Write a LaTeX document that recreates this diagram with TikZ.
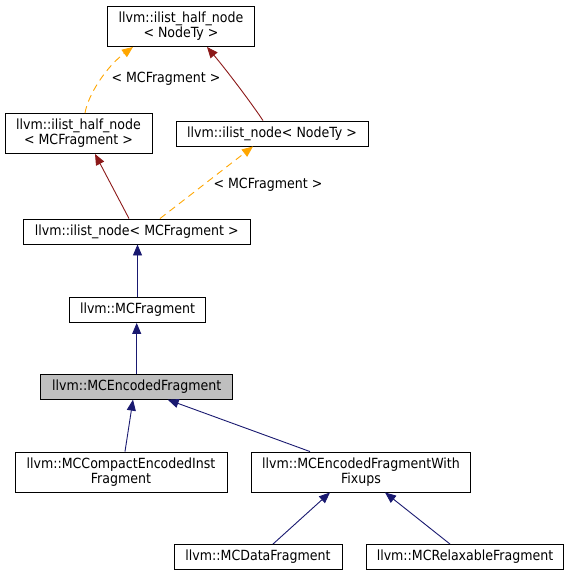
\documentclass[tikz,border=0pt]{standalone}
\usepackage{fontspec}
\setmainfont{DejaVu Sans Condensed}
\usepackage{tikz}
\usetikzlibrary{arrows.meta,positioning}
\definecolor{navy}{rgb}{.1,.1,.44}
\definecolor{darkred}{rgb}{.55,.1,.1}
\definecolor{tmplorange}{rgb}{1,.65,0}
\definecolor{curgray}{rgb}{.75,.75,.75}

\begin{document}
\begin{tikzpicture}[x=1pt,y=-1pt,% one unit is one pixel of the graph, y runs downwards
			every node/.style={
				align=center,  		% so that "\\" breaks the line
				inner sep=0pt,
				font=\fontsize{14}{15}\selectfont
			},
			cls/.style={rectangle,draw=black,line width=0.9pt,fill=white,minimum height=25pt},
			cls2/.style={cls,minimum height=40pt},
			pub/.style={draw=navy,line width=0.9pt,-{Triangle[length=11pt,width=9pt]}},
			priv/.style={draw=darkred,line width=0.9pt,-{Triangle[length=11pt,width=9pt]}},
			tmpl/.style={draw=tmplorange,line width=0.9pt,dash pattern=on 7pt off 5pt,-{Triangle[length=11pt,width=9pt]}}
		]
		\useasboundingbox (0,0) rectangle (569,576);
		\node[cls2,minimum width=147pt](R1) at (181,26.5){llvm::ilist\_half\_node\\< NodeTy >};
		\node[cls2,minimum width=147pt](R2) at (78.5,133.5){llvm::ilist\_half\_node\\< MCFragment >};
		\node[cls,minimum width=192pt](R3) at (272,133.5){llvm::ilist\_node< NodeTy >};
		\node[cls,minimum width=227pt](R4) at (136.7,231.5){llvm::ilist\_node< MCFragment >};
		\node[cls,minimum width=136pt](R5) at (137.5,310){llvm::MCFragment};
		\node[cls,minimum width=192pt,fill=curgray](R6) at (136.7,386.7){llvm::MCEncodedFragment};
		\node[cls2,minimum width=212pt](R7) at (121,472){llvm::MCCompactEncodedInst\\Fragment};
		\node[cls2,minimum width=219pt](R8) at (361,472){llvm::MCEncodedFragmentWith\\Fixups};
		\node[cls,minimum width=168pt](R9) at (258,557){llvm::MCDataFragment};
		\node[cls,minimum width=197pt](R10) at (465,557){llvm::MCRelaxableFragment};
		\node(L1) at (166,79){< MCFragment >};
		\node(L2) at (268,185){< MCFragment >};
		\draw[tmpl] ([xshift=6.5pt]R2.north) .. controls (88,95) and (106,67) .. ([xshift=-48pt]R1.south);
		\draw[priv] ([xshift=-9pt]R3.north) .. controls (252,104) and (228,72) .. ([xshift=26pt]R1.south);
		\path
		([xshift=-7.7pt]R4.north)edge [priv] ([xshift=16.5pt]R2.south)
		([xshift=23.3pt]R4.north)edge [tmpl] ([xshift=-19pt]R3.south)
		(R5.north)edge [pub] (R5.north |- R4.south)
		(R6.north)edge [pub] (R6.north |- R5.south)
		([xshift=4pt]R7.north)edge [pub] ([xshift=-3.7pt]R6.south)
		([xshift=-51pt]R8.north)edge [pub] ([xshift=31pt]R6.south)
		([xshift=15pt]R9.north)edge [pub] ([xshift=-31pt]R8.south)
		([xshift=-15pt]R10.north)edge [pub] ([xshift=24pt]R8.south)
		;
	\end{tikzpicture}
\end{document}
